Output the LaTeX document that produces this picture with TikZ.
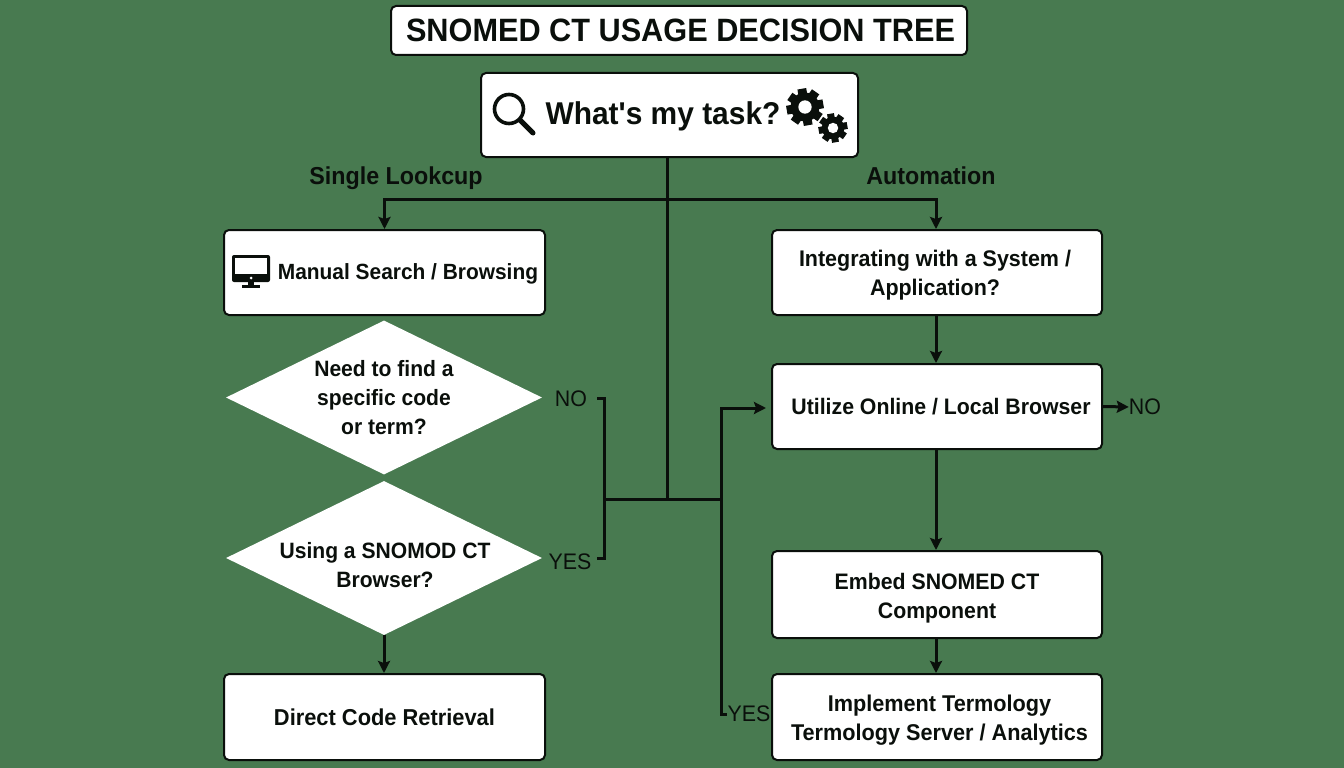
\documentclass[tikz,border=0pt]{standalone}
\usepackage{fontspec}
\setmainfont[FakeStretch=0.95]{Liberation Sans}
\newfontfamily\rawfont[FakeStretch=0.95]{Liberation Sans}
\usetikzlibrary{arrows.meta,shapes.geometric}
\definecolor{bg}{HTML}{487A50}
\definecolor{ink}{HTML}{0A0F0B}
\tikzset{
 x=1pt,y=-1pt,
 boxn/.style={draw=ink,fill=white,line width=2pt,rounded corners=5pt,align=center,font=\fontsize{22}{29}\selectfont\bfseries,text=ink,inner sep=0pt,text width=#1},
 dia/.style={draw=none,fill=white,diamond,aspect=2.05,inner sep=0pt,minimum width=316pt,minimum height=154pt,align=center,font=\fontsize{22.2}{29}\selectfont\bfseries,text=ink},
 line/.style={draw=ink,line width=3pt},
 arr/.style={line,-{Stealth[length=12pt,width=12pt,inset=2pt]}},
 branch/.style={font=\fontsize{24.5}{28}\selectfont\bfseries,text=ink},
 plain/.style={font=\fontsize{22.5}{26}\selectfont,text=ink},
 label text/.style={font=\fontsize{22.4}{29}\selectfont\bfseries,text=ink,inner sep=0pt,align=center},
}
\newcommand{\gearicon}[3]{%
 \fill[ink] (#1,#2) circle[radius=#3*0.78];
 \foreach \a in {0,45,...,315}{\fill[ink,rotate around={\a+10:(#1,#2)}] (#1-#3*0.24,#2) rectangle (#1+#3*0.24,#2-#3);}
 \fill[white] (#1,#2) circle[radius=#3*0.36];
}
\begin{document}
\begin{tikzpicture}
\useasboundingbox (0,0) rectangle (1344,768);
\fill[bg] (0,0) rectangle (1344,768);

% boxes
\node[boxn=576pt,minimum height=49pt] (title) at (679,30.5) {};
\node[font=\fontsize{32.3}{38}\selectfont\bfseries,text=ink,inner sep=0pt] (titletext) at (680.5,30) {SNOMED CT USAGE DECISION TREE};
\node[boxn=377pt,minimum height=84pt] (task) at (669.5,115) {};
\node[font=\fontsize{31.5}{38}\rawfont\bfseries,text=ink,inner sep=0pt] (tasktext) at (663,116.5) {What's my task?};
\node[boxn=321pt,minimum height=85pt] (manual) at (384.5,272.5) {};
\node[label text,font=\fontsize{22}{29}\selectfont\bfseries] (manualtext) at (408,274) {Manual Search / Browsing};
\node[boxn=330pt,minimum height=85pt] (integ) at (937,272.5) {};
\node[label text,font=\fontsize{22.6}{29}\selectfont\bfseries] (integtext) at (935,275) {Integrating with a System /\\Application?};
\node[boxn=330pt,minimum height=85pt] (util) at (937,406.5) {};
\node[label text] (utiltext) at (941,407) {Utilize Online / Local Browser};
\node[boxn=330pt,minimum height=87pt] (embed) at (937,594.5) {};
\node[label text] (embedtext) at (937,598) {Embed SNOMED CT\\Component};
\node[boxn=330pt,minimum height=86pt] (impl) at (937,717) {};
\node[label text,font=\fontsize{22.8}{29}\selectfont\bfseries] (impltext) at (939.5,720) {Implement Termology\\Termology Server / Analytics};
\node[boxn=321pt,minimum height=86pt] (direct) at (384.5,717) {};
\node[label text,font=\fontsize{23}{29}\selectfont\bfseries] (directtext) at (384.5,717.5) {Direct Code Retrieval};
\node[dia] (d1) at (384,397.5) {Need to find a\\specific code\\or term?};
\node[dia] (d2) at (384,558) {};
\node[label text,font=\fontsize{22.2}{29}\selectfont\bfseries] (d2text) at (385,565) {Using a SNOMOD CT\\Browser?};

% labels
\node[branch] (lookup) at (396,178) {Single Lookcup};
\node[branch] (auto) at (931,176) {Automation};
\node[plain,inner sep=0pt] (no1) at (571,399) {NO};
\node[plain,inner sep=0pt] (yes1) at (570,562) {YES};
\node[plain,inner sep=0pt] (no2) at (1145,407) {NO};
\node[plain,inner sep=0pt] (yes2) at (749,714) {YES};

% junctions
\coordinate (hub) at (667,499);
\coordinate (top) at (667,199);
\coordinate (lft) at (604,499);
\coordinate (rgt) at (721,499);
\coordinate (nostub) at (597,398);
\coordinate (yesstub) at (597,558);
\coordinate (uin) at (766,408);
\coordinate (ytick) at (727,714);

% connectors
\draw[line] (task.south -| hub) -- (hub);
\draw[arr] (top) -| (manual.north);
\draw[arr] (top) -| (integ.north -| 936,0);
\draw[arr] (integ.south -| 936,0) -- (util.north -| 936,0);
\draw[arr] (util.south -| 936,0) -- (embed.north -| 936,0);
\draw[arr] (embed.south -| 936,0) -- (impl.north -| 936,0);
\draw[arr] (d2.south) -- (d2.south |- direct.north);
\draw[arr] (util.east) -- (no2.west);
\draw[line] (nostub) -| (lft) |- (yesstub);
\draw[line] (lft) -- (rgt);
\draw[arr] (rgt) |- (uin);
\draw[line] (rgt) |- (ytick);

% magnifier
\draw[ink,line width=3.6pt] (509,109) circle[radius=14.5];
\draw[ink,line width=5pt,line cap=round] (520,120) -- (533,133);
% gears
\gearicon{805}{107}{18.5}
\gearicon{833}{128}{14.5}
% monitor
\fill[ink,rounded corners=2pt] (232,255) rectangle (270,282);
\fill[white] (235,258) rectangle (267,274);
\fill[white] (251,278) circle[radius=1.5];
\fill[ink] (248,282) rectangle (254,286);
\fill[ink] (242,285) rectangle (260,288);
\end{tikzpicture}
\end{document}
